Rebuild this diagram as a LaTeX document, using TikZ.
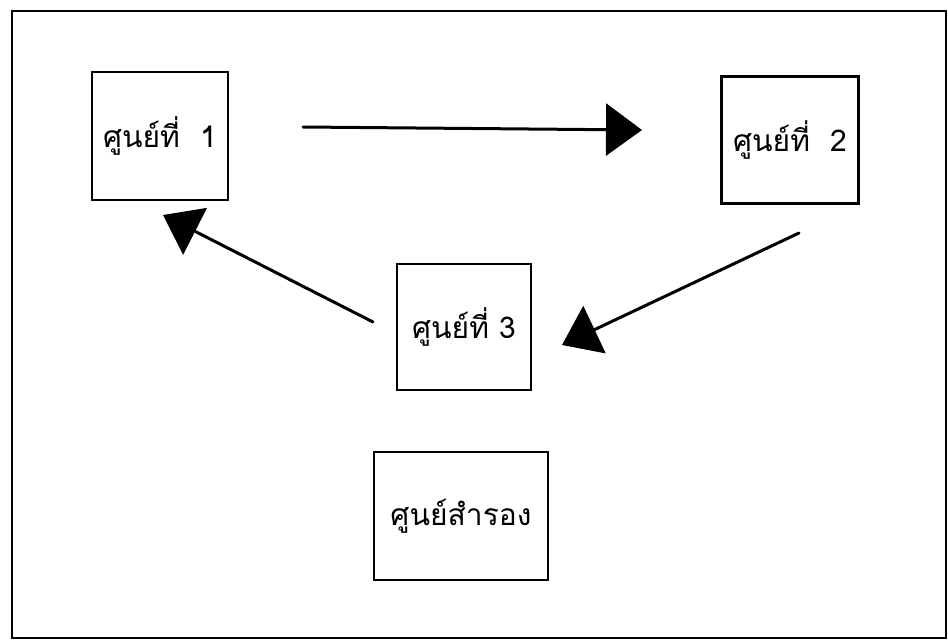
\documentclass[tikz,border=0pt]{standalone}
\usepackage{fontspec}
\newfontfamily\thaifont[Script=Thai]{Loma}
\usetikzlibrary{arrows.meta}
\begin{document}
\begin{tikzpicture}[x=1pt,y=-1pt,
  box/.style={draw, line width=2.2pt, inner sep=0pt, align=center,
    font=\thaifont\fontsize{30}{32}\selectfont},
  conn/.style={line width=3pt, line cap=round,
    -{Triangle[length=36pt,width=52pt]}}]
\useasboundingbox (0,0) rectangle (948,640);
\draw[line width=2.8pt] (12,11) rectangle (946,638);
\node[box, minimum width=136pt, minimum height=128pt] (c1) at (160,136) {ศูนย์ที่~~1};
\node[box, minimum width=137pt, minimum height=127pt] (c2) at (790,140) {ศูนย์ที่~~2};
\node[box, minimum width=134pt, minimum height=126pt] (c3) at (464,327) {ศูนย์ที่ 3};
\node[box, minimum width=174pt, minimum height=128pt] (c4) at (461,516) {ศูนย์สำรอง};
\coordinate (a1s) at (303,127);
\coordinate (a1e) at (642,130);
\coordinate (a2s) at (799,233);
\coordinate (a2e) at (562,345);
\coordinate (a3s) at (373,322);
\coordinate (a3e) at (163,215);
\draw[conn] (a1s) -- (a1e);
\draw[conn] (a2s) -- (a2e);
\draw[conn] (a3s) -- (a3e);
\end{tikzpicture}
\end{document}
